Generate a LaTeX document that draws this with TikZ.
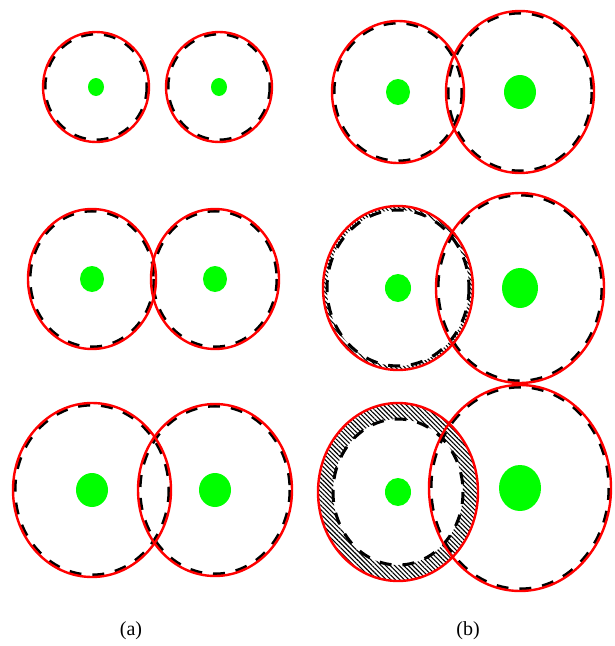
\documentclass[tikz,border=0pt]{standalone}
\usepackage{fontspec}
\setmainfont{Liberation Serif}
\usetikzlibrary{patterns.meta}

\begin{document}
\begin{tikzpicture}[
  x=1pt, y=-1pt,
  rim/.style={draw=red, line width=2.4pt},
  guess/.style={draw=black, line width=3pt, dash pattern=on 12pt off 11pt},
  seed/.style={fill=green},
  hatch/.style={pattern={Lines[angle=-45, distance=3.2pt, line width=1.1pt]}, even odd rule},
  caption/.style={font=\fontsize{20}{24}\selectfont},
]
\useasboundingbox (0,0) rectangle (614,646);

% ── column (a): equal cells ──────────────────
\draw[guess] (96,87) ellipse (51 and 53);
\draw[guess] (219,87) ellipse (51 and 53);
\draw[rim] (96,87) ellipse (53 and 55);
\draw[rim] (219,87) ellipse (53 and 55);
\fill[seed] (96,87) ellipse (8 and 9);
\fill[seed] (219,87) ellipse (8 and 9);

\draw[guess] (92,279) ellipse (62 and 68);
\draw[guess] (215,279) ellipse (62 and 68);
\draw[rim] (92,279) ellipse (64 and 70);
\draw[rim] (215,279) ellipse (64 and 70);
\fill[seed] (92,279) ellipse (12 and 13);
\fill[seed] (215,279) ellipse (12 and 13);

\draw[guess] (92,490) ellipse (77 and 85);
\draw[guess] (215,490) ellipse (75 and 84);
\draw[rim] (92,490) ellipse (79 and 87);
\draw[rim] (215,490) ellipse (77 and 86);
\fill[seed] (92,490) ellipse (16 and 17);
\fill[seed] (215,490) ellipse (16 and 17);

% ── column (b): left cell shrinks behind its rim ──
\draw[guess] (398,92) ellipse (64 and 69);
\draw[guess] (520,92) ellipse (72 and 79);
\draw[rim] (398,92) ellipse (66 and 71);
\draw[rim] (520,92) ellipse (74 and 81);
\fill[seed] (398,92) ellipse (12 and 13);
\fill[seed] (520,92) ellipse (16 and 17);

\fill[hatch] (398,288) ellipse (75 and 82) (398,288) ellipse (71 and 78);
\draw[guess] (398,288) ellipse (71 and 78);
\draw[guess] (520,288) ellipse (82 and 93);
\draw[rim] (398,288) ellipse (75 and 82);
\draw[rim] (520,288) ellipse (84 and 95);
\fill[seed] (398,288) ellipse (13 and 14);
\fill[seed] (520,288) ellipse (18 and 20);

\fill[hatch] (398,492) ellipse (80 and 89) (398,492) ellipse (65 and 73);
\draw[guess] (398,492) ellipse (65 and 73);
\draw[guess] (520,488) ellipse (89 and 101);
\draw[rim] (398,492) ellipse (80 and 89);
\draw[rim] (520,488) ellipse (91 and 103);
\fill[seed] (398,492) ellipse (13 and 14);
\fill[seed] (520,488) ellipse (21 and 23);

% ── captions ─────────────────────────
\node[caption] (capa) at (131,631) {(a)};
\node[caption] (capb) at (468,631) {(b)};

\end{tikzpicture}
\end{document}
